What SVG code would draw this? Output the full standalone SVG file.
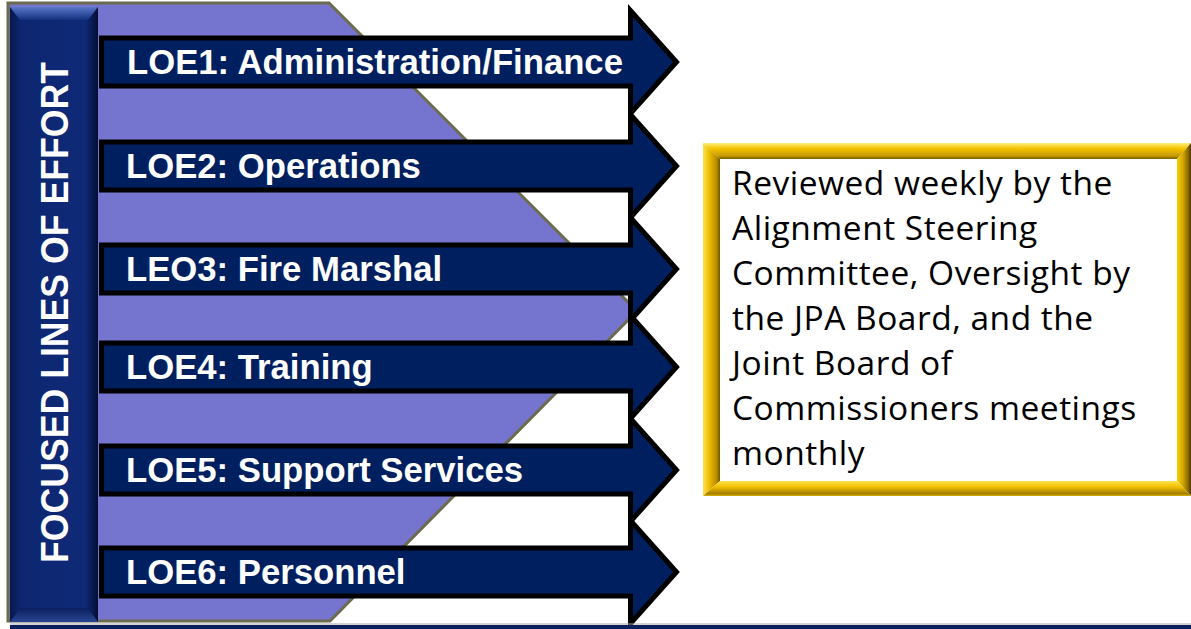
<svg xmlns="http://www.w3.org/2000/svg" width="1191" height="629" viewBox="0 0 1191 629">
  <defs>
    <linearGradient id="barH" x1="0" y1="0" x2="1" y2="0">
      <stop offset="0" stop-color="#081848"/>
      <stop offset="0.12" stop-color="#0d2670"/>
      <stop offset="0.85" stop-color="#0f2a78"/>
      <stop offset="1" stop-color="#040e34"/>
    </linearGradient>
    <linearGradient id="barTop" x1="0" y1="0" x2="0" y2="1">
      <stop offset="0" stop-color="#5a78c8"/>
      <stop offset="1" stop-color="#12307e"/>
    </linearGradient>
    <linearGradient id="barBot" x1="0" y1="0" x2="0" y2="1">
      <stop offset="0" stop-color="#0a1f60"/>
      <stop offset="1" stop-color="#2a4592"/>
    </linearGradient>
    <linearGradient id="gTop" x1="0" y1="0" x2="0" y2="1">
      <stop offset="0" stop-color="#fff07a"/>
      <stop offset="0.35" stop-color="#f2c400"/>
      <stop offset="0.8" stop-color="#c89a00"/>
      <stop offset="1" stop-color="#7a5e00"/>
    </linearGradient>
    <linearGradient id="gLeft" x1="0" y1="0" x2="1" y2="0">
      <stop offset="0" stop-color="#ffe34a"/>
      <stop offset="0.4" stop-color="#eab900"/>
      <stop offset="0.8" stop-color="#b88c00"/>
      <stop offset="1" stop-color="#6e5400"/>
    </linearGradient>
    <linearGradient id="gRight" x1="0" y1="0" x2="1" y2="0">
      <stop offset="0" stop-color="#f7d000"/>
      <stop offset="0.4" stop-color="#d6a800"/>
      <stop offset="0.8" stop-color="#8a6a00"/>
      <stop offset="1" stop-color="#4a3800"/>
    </linearGradient>
    <linearGradient id="gBot" x1="0" y1="0" x2="0" y2="1">
      <stop offset="0" stop-color="#ffe24a"/>
      <stop offset="0.4" stop-color="#f0c000"/>
      <stop offset="0.85" stop-color="#a47c00"/>
      <stop offset="1" stop-color="#d9b400"/>
    </linearGradient>
    <style>
      .arrow { fill: #001f5f; stroke: #000; stroke-width: 5; stroke-linejoin: miter; }
      .lbl { font-family: "Liberation Sans", Arial, sans-serif; font-weight: bold; font-size: 34.7px; fill: #fff; }
      .note { font-family: "Open Sans", "Liberation Sans", sans-serif; font-size: 33.5px; letter-spacing: 0.5px; fill: #000; }
    </style>
  </defs>

  <rect width="1191" height="629" fill="#fff"/>

  <g id="background-band">
    <polygon points="8,3 329,3 637,311 330,621 8,621" fill="#7575cf" stroke="#6b6b4e" stroke-width="3"/>
  </g>

  <g id="focus-bar">
    <rect x="10" y="7" width="88" height="615" fill="url(#barH)"/>
    <polygon points="10,7 98,7 88,20 20,20" fill="url(#barTop)"/>
    <polygon points="20,608 88,608 98,622 10,622" fill="url(#barBot)"/>
    <text transform="translate(68,312.5) rotate(-90)" text-anchor="middle" font-family="Liberation Sans, Arial, sans-serif" font-weight="bold" font-size="38" fill="#fff" textLength="501" lengthAdjust="spacingAndGlyphs">FOCUSED LINES OF EFFORT</text>
  </g>

  <g id="connectors"></g>

  <g id="loe1">
    <polygon class="arrow" points="101.5,38 630.5,38 630.5,10.5 676.5,62 630.5,113.5 630.5,86 101.5,86"/>
    <text class="lbl" x="127" y="74">LOE1: Administration/Finance</text>
  </g>
  <g id="loe2">
    <polygon class="arrow" points="101.5,142 630.5,142 630.5,114.5 676.5,166 630.5,217.5 630.5,190 101.5,190"/>
    <text class="lbl" x="126" y="178">LOE2: Operations</text>
  </g>
  <g id="leo3">
    <polygon class="arrow" points="101.5,245 630.5,245 630.5,217.5 676.5,269 630.5,320.5 630.5,293 101.5,293"/>
    <text class="lbl" x="126" y="281">LEO3: Fire Marshal</text>
  </g>
  <g id="loe4">
    <polygon class="arrow" points="101.5,343 630.5,343 630.5,315.5 676.5,367 630.5,418.5 630.5,391 101.5,391"/>
    <text class="lbl" x="126" y="379">LOE4: Training</text>
  </g>
  <g id="loe5">
    <polygon class="arrow" points="101.5,446 630.5,446 630.5,418.5 676.5,470 630.5,521.5 630.5,494 101.5,494"/>
    <text class="lbl" x="126" y="482">LOE5: Support Services</text>
  </g>
  <g id="loe6">
    <polygon class="arrow" points="101.5,548 630.5,548 630.5,520.5 676.5,572 630.5,623.5 630.5,596 101.5,596"/>
    <text class="lbl" x="126" y="584">LOE6: Personnel</text>
  </g>

  <g id="bottom-rule">
    <rect x="10" y="623.5" width="1181" height="1" fill="#a8a8b0"/>
    <rect x="10" y="625" width="1181" height="4" fill="#0a1f5c"/>
  </g>

  <g id="review-note">
    <rect x="720" y="159" width="457" height="322" fill="#fff"/>
    <polygon points="703,143 1191,143 1177,159 720,159" fill="url(#gTop)"/>
    <polygon points="703,143 720,159 720,481 703,496" fill="url(#gLeft)"/>
    <polygon points="1191,143 1191,496 1177,481 1177,159" fill="url(#gRight)"/>
    <polygon points="703,496 720,481 1177,481 1191,496" fill="url(#gBot)"/>
    <text class="note" x="732" y="195">Reviewed weekly by the</text>
    <text class="note" x="732" y="240">Alignment Steering</text>
    <text class="note" x="732" y="285">Committee, Oversight by</text>
    <text class="note" x="732" y="330">the JPA Board, and the</text>
    <text class="note" x="732" y="375">Joint Board of</text>
    <text class="note" x="732" y="420">Commissioners meetings</text>
    <text class="note" x="732" y="465">monthly</text>
  </g>
</svg>
